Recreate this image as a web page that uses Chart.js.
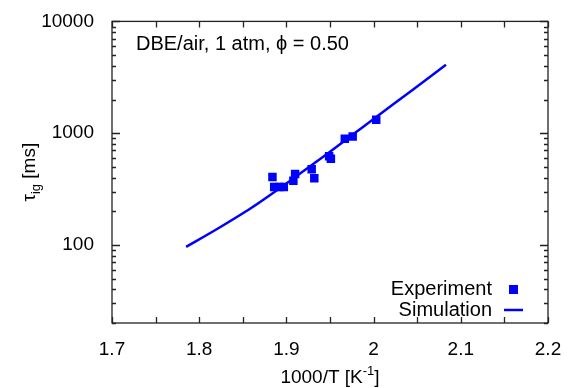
<!DOCTYPE html>
<html>
<head>
<meta charset="utf-8">
<script src="https://cdn.jsdelivr.net/npm/chart.js@4"></script>
<style>
html, body { margin: 0; padding: 0; background: #fff; }
#wrap { width: 579px; height: 388px; }
</style>
</head>
<body>
<div id="wrap"><canvas id="ign"></canvas></div>
<script>
// experiment (1000/T, ignition delay in ms)
var expX = [1.884, 1.886, 1.892, 1.897, 1.908, 1.910, 1.929, 1.932, 1.949, 1.951, 1.967, 1.976, 2.003];
var expY = [405, 330, 330, 330, 375, 430, 475, 395, 620, 590, 890, 935, 1320];
// simulation curve
var simX = [1.785, 1.82, 1.86, 1.90, 1.95, 2.00, 2.045, 2.083];
var simY = [96, 138, 215, 355, 680, 1340, 2450, 4100];
var xTicks = [1.7, 1.8, 1.9, 2.0, 2.1, 2.2];
var yTicks = [100, 1000, 10000];

var blue = '#0000ff';
var font = 'Liberation Sans, Arial, sans-serif';

var frame = {
    id: 'frame',
    afterDraw: function (chart) {
        var c = chart.ctx, a = chart.chartArea;
        var xs = chart.scales.x, ys = chart.scales.y;
        c.save();
        c.strokeStyle = '#222';
        c.lineWidth = 1.3;
        c.strokeRect(a.left, a.top, a.right - a.left, a.bottom - a.top);
        c.beginPath();
        for (var v = 1.7; v <= 2.2001; v += 0.05) {
            var px = Math.round(xs.getPixelForValue(v)) + 0.5;
            c.moveTo(px, a.bottom); c.lineTo(px, a.bottom - 6);
            c.moveTo(px, a.top); c.lineTo(px, a.top + 6);
        }
        [10, 100, 1000].forEach(function (d) {
            for (var m = 1; m <= 9; m++) {
                var val = d * m;
                if (val < 20 || val > 10000) continue;
                var py = Math.round(ys.getPixelForValue(val)) + 0.5;
                var len = m === 1 ? 8 : 4;
                c.moveTo(a.left, py); c.lineTo(a.left + len, py);
                c.moveTo(a.right, py); c.lineTo(a.right - len, py);
            }
        });
        var top = Math.round(ys.getPixelForValue(10000)) + 0.5;
        c.moveTo(a.left, top); c.lineTo(a.left + 8, top);
        c.moveTo(a.right, top); c.lineTo(a.right - 8, top);
        c.stroke();

        // annotation
        c.fillStyle = '#000';
        c.font = '20px ' + font;
        c.textBaseline = 'middle';
        c.textAlign = 'left';
        c.fillText('DBE/air, 1 atm, \u03d5 = 0.50', a.left + 24, 44);

        // legend
        c.textAlign = 'right';
        c.fillText('Experiment', 492, 289);
        c.fillText('Simulation', 492, 310);
        c.fillStyle = blue;
        c.fillRect(509, 285, 9, 9);
        c.strokeStyle = blue;
        c.lineWidth = 2.5;
        c.beginPath();
        c.moveTo(504, 310); c.lineTo(523, 310);
        c.stroke();

        // axis titles
        c.fillStyle = '#000';
        c.textAlign = 'left';
        c.font = '19px ' + font;
        var t1 = '1000/T [K', w1 = c.measureText(t1).width;
        c.font = '13px ' + font;
        var w2 = c.measureText('-1').width;
        c.font = '19px ' + font;
        var w3 = c.measureText(']').width;
        var x0 = (a.left + a.right) / 2 - (w1 + w2 + w3) / 2;
        c.fillText(t1, x0, 378);
        c.font = '13px ' + font;
        c.fillText('-1', x0 + w1, 371);
        c.font = '19px ' + font;
        c.fillText(']', x0 + w1 + w2, 378);

        c.translate(30, (a.top + a.bottom) / 2);
        c.rotate(-Math.PI / 2);
        c.font = '19px ' + font;
        var wa = c.measureText('\u03c4').width;
        c.font = '13px ' + font;
        var wb = c.measureText('ig').width;
        c.font = '19px ' + font;
        var wc = c.measureText(' [ms]').width;
        var s = -(wa + wb + wc) / 2;
        c.fillText('\u03c4', s, 0);
        c.font = '13px ' + font;
        c.fillText('ig', s + wa, 6);
        c.font = '19px ' + font;
        c.fillText(' [ms]', s + wa + wb, 0);
        c.restore();
    }
};

new Chart(document.getElementById('ign'), {
    type: 'scatter',
    data: {
        datasets: [{
            label: 'Experiment',
            data: expX.map(function (x, i) { return { x: x, y: expY[i] }; }),
            pointStyle: 'rect',
            pointRadius: 6,
            backgroundColor: blue,
            borderColor: blue,
            borderWidth: 0
        }, {
            label: 'Simulation',
            type: 'line',
            data: simX.map(function (x, i) { return { x: x, y: simY[i] }; }),
            borderColor: blue,
            borderWidth: 2.5,
            pointRadius: 0,
            tension: 0.3,
            fill: false
        }]
    },
    options: {
        responsive: true,
        maintainAspectRatio: false,
        animation: false,
        layout: { padding: { top: 18, right: 31, left: 0, bottom: 0 } },
        plugins: { legend: { display: false }, tooltip: { enabled: false } },
        scales: {
            x: {
                type: 'linear',
                min: 1.7,
                max: 2.2,
                grid: { display: false },
                border: { display: false },
                afterBuildTicks: function (s) { s.ticks = xTicks.map(function (v) { return { value: v }; }); },
                afterFit: function (s) { s.height = 65; },
                ticks: {
                    color: '#000',
                    font: { family: font, size: 19 },
                    padding: 7,
                    maxRotation: 0,
                    autoSkip: false,
                    callback: function (v) { return String(Math.round(v * 10) / 10); }
                }
            },
            y: {
                type: 'logarithmic',
                min: 20,
                max: 10000,
                grid: { display: false },
                border: { display: false },
                afterBuildTicks: function (s) { s.ticks = yTicks.map(function (v) { return { value: v }; }); },
                afterFit: function (s) { s.width = 112; },
                ticks: {
                    color: '#000',
                    font: { family: font, size: 19 },
                    padding: 10,
                    autoSkip: false,
                    callback: function (v) { return String(v); }
                }
            }
        }
    },
    plugins: [frame]
});
</script>
</body>
</html>
